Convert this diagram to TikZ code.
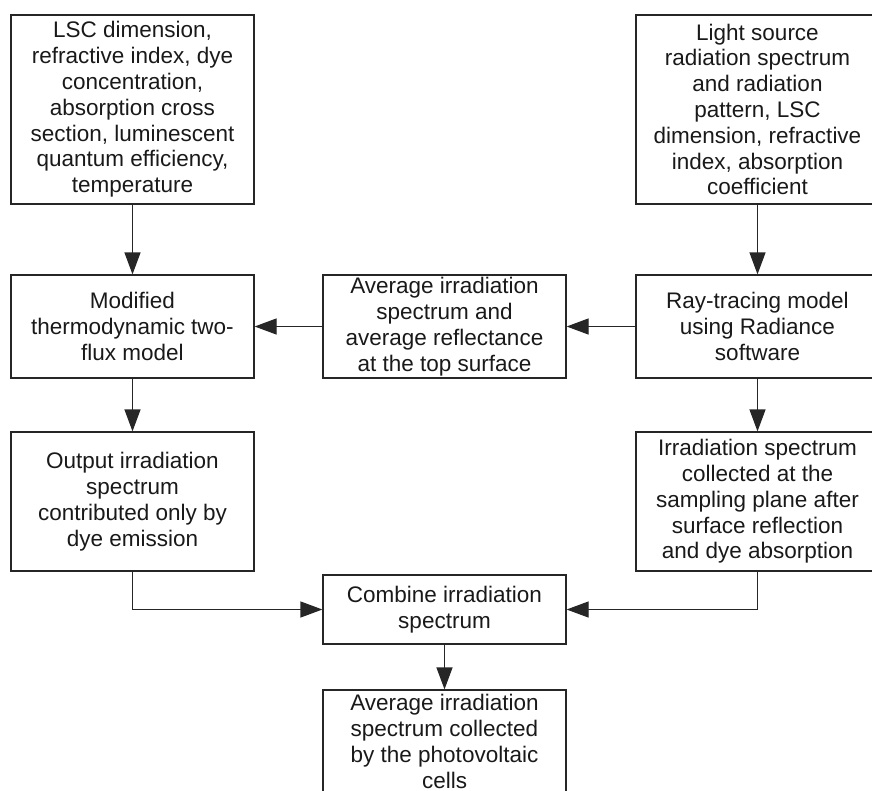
\documentclass[tikz,border=0pt]{standalone}
\usepackage{fontspec}
\setmainfont{Liberation Sans}
\usetikzlibrary{arrows.meta}
\begin{document}
\begin{tikzpicture}[x=1pt,y=-1pt,
  box/.style={draw=black!85, line width=1.2pt, minimum width=243pt, inner sep=0pt, align=center,
    font=\fontsize{22.5}{25.8}\selectfont, text=black!90},
  conn/.style={draw=black!85, line width=1.2pt, -{Triangle[length=22pt,width=16pt]}}]
\useasboundingbox (0,0) rectangle (872,790);
\node[box, minimum height=189pt] (lsc) at (132.5,109.5) {LSC dimension,\\refractive index, dye\\concentration,\\absorption cross\\section, luminescent\\quantum efficiency,\\temperature};
\node[box, minimum height=189pt] (light) at (757.5,109.5) {Light source\\radiation spectrum\\and radiation\\pattern, LSC\\dimension, refractive\\index, absorption\\coefficient};
\node[box, minimum height=103pt] (mod) at (132.5,326.5) {Modified\\thermodynamic two-\\flux model};
\node[box, minimum height=103pt] (avg) at (444.5,326.5) {Average irradiation\\spectrum and\\average reflectance\\at the top surface};
\node[box, minimum height=103pt] (ray) at (757.5,326.5) {Ray-tracing model\\using Radiance\\software};
\node[box, minimum height=139pt] (out) at (132.5,501.5) {Output irradiation\\spectrum\\contributed only by\\dye emission};
\node[box, minimum height=139pt] (irr) at (757.5,501.5) {Irradiation spectrum\\collected at the\\sampling plane after\\surface reflection\\and dye absorption};
\node[box, minimum height=69pt] (comb) at (444.5,609.5) {Combine irradiation\\spectrum};
\node[box, minimum height=103pt] (fin) at (444.5,741.5) {Average irradiation\\spectrum collected\\by the photovoltaic\\cells};
\draw[conn] (lsc.south) -- (mod.north);
\draw[conn] (light.south) -- (ray.north);
\draw[conn] (ray.west) -- (avg.east);
\draw[conn] (avg.west) -- (mod.east);
\draw[conn] (mod.south) -- (out.north);
\draw[conn] (ray.south) -- (irr.north);
\draw[conn] (out.south) |- (comb.west);
\draw[conn] (irr.south) |- (comb.east);
\draw[conn] (comb.south) -- (fin.north);
\end{tikzpicture}
\end{document}
